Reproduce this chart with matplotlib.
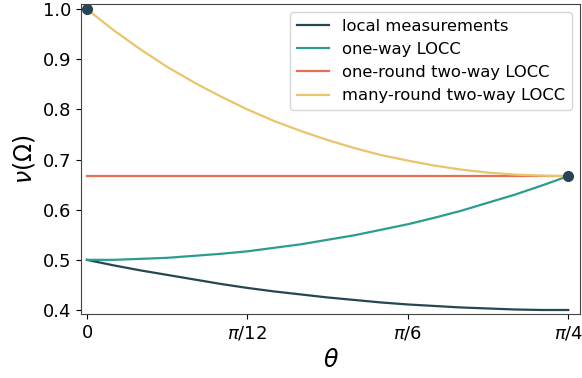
import numpy as np
import matplotlib
matplotlib.use("Agg")
import matplotlib.pyplot as plt

# theta en grados (se convierte a radianes al dibujar)
theta_deg = [0, 2.5, 5, 7.5, 10, 12.5, 15, 17.5, 20, 22.5, 25, 27.5, 30,
             32.5, 35, 37.5, 40, 42.5, 45]

local_meas = [0.500, 0.489, 0.479, 0.470, 0.461, 0.452, 0.444, 0.437, 0.431,
              0.425, 0.420, 0.415, 0.411, 0.408, 0.405, 0.403, 0.401, 0.400, 0.400]
one_way = [0.500, 0.500, 0.502, 0.504, 0.508, 0.512, 0.517, 0.524, 0.531,
           0.540, 0.549, 0.560, 0.571, 0.584, 0.598, 0.614, 0.630, 0.648, 0.667]
one_round = [0.667] * len(theta_deg)
many_round = [1.000, 0.958, 0.920, 0.885, 0.854, 0.826, 0.800, 0.777, 0.757,
              0.739, 0.723, 0.709, 0.698, 0.688, 0.680, 0.674, 0.670, 0.668, 0.667]

# puntos marcados
pts_deg = [0, 45]
pts_val = [1.0, 0.667]

xtick_deg = [0, 15, 30, 45]
xtick_labels = [r"$0$", r"$\pi/12$", r"$\pi/6$", r"$\pi/4$"]

c_local = "#264653"
c_oneway = "#2a9d8f"
c_oneround = "#e76f51"
c_many = "#e9c46a"

fig = plt.figure(figsize=(5.82, 3.78), dpi=100)
ax = fig.add_axes([0.139, 0.168, 0.858, 0.821])

th = np.radians(theta_deg)
ax.plot(th, local_meas, color=c_local, lw=1.6, label="local measurements")
ax.plot(th, one_way, color=c_oneway, lw=1.6, label="one-way LOCC")
ax.plot(th, one_round, color=c_oneround, lw=1.6, label="one-round two-way LOCC")
ax.plot(th, many_round, color=c_many, lw=1.6, label="many-round two-way LOCC")
ax.plot(np.radians(pts_deg), pts_val, "o", color=c_local, ms=7, zorder=5)

ax.set_xticks(np.radians(xtick_deg))
ax.set_xticklabels(xtick_labels)
ax.set_xlim(-0.0098, np.pi / 4 + 0.0196)
ax.set_ylim(0.391, 1.01)
ax.set_yticks([0.4, 0.5, 0.6, 0.7, 0.8, 0.9, 1.0])
ax.tick_params(labelsize=13)

ax.set_xlabel(r"$\theta$", fontsize=17)
ax.set_ylabel(r"$\nu(\Omega)$", fontsize=17)

for s in ax.spines.values():
    s.set_color("#444444")

ax.legend(loc="upper right", fontsize=11.75)

fig.savefig("out.png", dpi=100)
